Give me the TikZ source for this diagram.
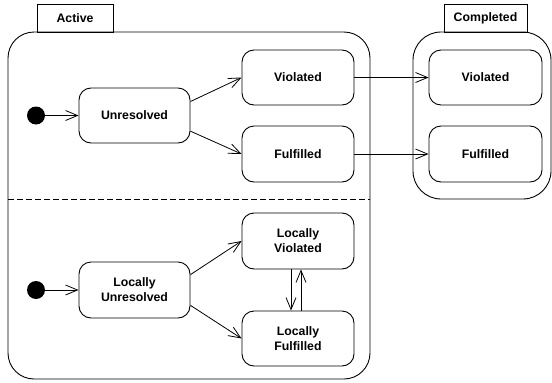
\documentclass[tikz,border=0pt]{standalone}
\usepackage{fontspec}
\setmainfont{Liberation Sans}
\usetikzlibrary{arrows.meta,calc}
\begin{document}
\begin{tikzpicture}[x=1pt,y=-1pt,
  every path/.style={line width=0.9pt},
  statebox/.style={draw, rounded corners=12pt, minimum width=112pt, minimum height=55pt,
    align=center, inner sep=0pt, font=\fontsize{12.3}{15}\selectfont\bfseries},
  tabbox/.style={draw, minimum height=28pt, inner sep=0pt, font=\fontsize{12.3}{15}\selectfont\bfseries},
  initdot/.style={circle, fill=black, minimum size=18pt, inner sep=0pt},
  trans/.style={-{Straight Barb[length=12pt,width=10pt]}, line width=0.8pt}]
\useasboundingbox (0,0) rectangle (552,383);
% containers
\draw[rounded corners=26pt] (8,32) rectangle (370,379);
\draw[dash pattern=on 6pt off 3pt] (8,199) -- (370,199);
\draw[rounded corners=28pt] (413,32) rectangle (551,199);
\node[tabbox, minimum width=76pt] (tA) at (75,18) {Active};
\node[tabbox, minimum width=83pt] (tC) at (485.5,18) {Completed};
% states
\node[statebox, minimum width=111pt] (U) at (134.5,115.5) {Unresolved};
\node[statebox] (V) at (298,77.5) {Violated};
\node[statebox, minimum height=56pt] (F) at (298,154) {Fulfilled};
\node[statebox, minimum width=113pt] (CV) at (485.5,77.5) {Violated};
\node[statebox, minimum width=113pt, minimum height=56pt] (CF) at (485.5,154) {Fulfilled};
\node[statebox, minimum width=111pt, minimum height=56pt] (LU) at (134.5,290) {Locally\\Unresolved};
\node[statebox, minimum height=56pt] (LV) at (298,241) {Locally\\Violated};
\node[statebox] (LF) at (298,338.5) {Locally\\Fulfilled};
\node[initdot] (i1) at (36,115.5) {};
\node[initdot] (i2) at (36,290) {};
% transitions
\draw[trans] (i1) -- (U);
\draw[trans] (i2) -- (LU);
\draw[trans] ($(U.north east)!0.25!(U.south east)$) -- (V.west);
\draw[trans] ($(U.north east)!0.78!(U.south east)$) -- (F.west);
\draw[trans] ($(LU.north east)!0.23!(LU.south east)$) -- (LV.west);
\draw[trans] ($(LU.north east)!0.77!(LU.south east)$) -- (LF.west);
\draw[trans] (V.east) -- (CV.west);
\draw[trans] (F.east) -- (CF.west);
\draw[trans] ([xshift=-7pt]LV.south) -- ([xshift=-7pt]LV.south |- LF.north);
\draw[trans] ([xshift=3pt]LF.north) -- ([xshift=3pt]LF.north |- LV.south);
\end{tikzpicture}
\end{document}
